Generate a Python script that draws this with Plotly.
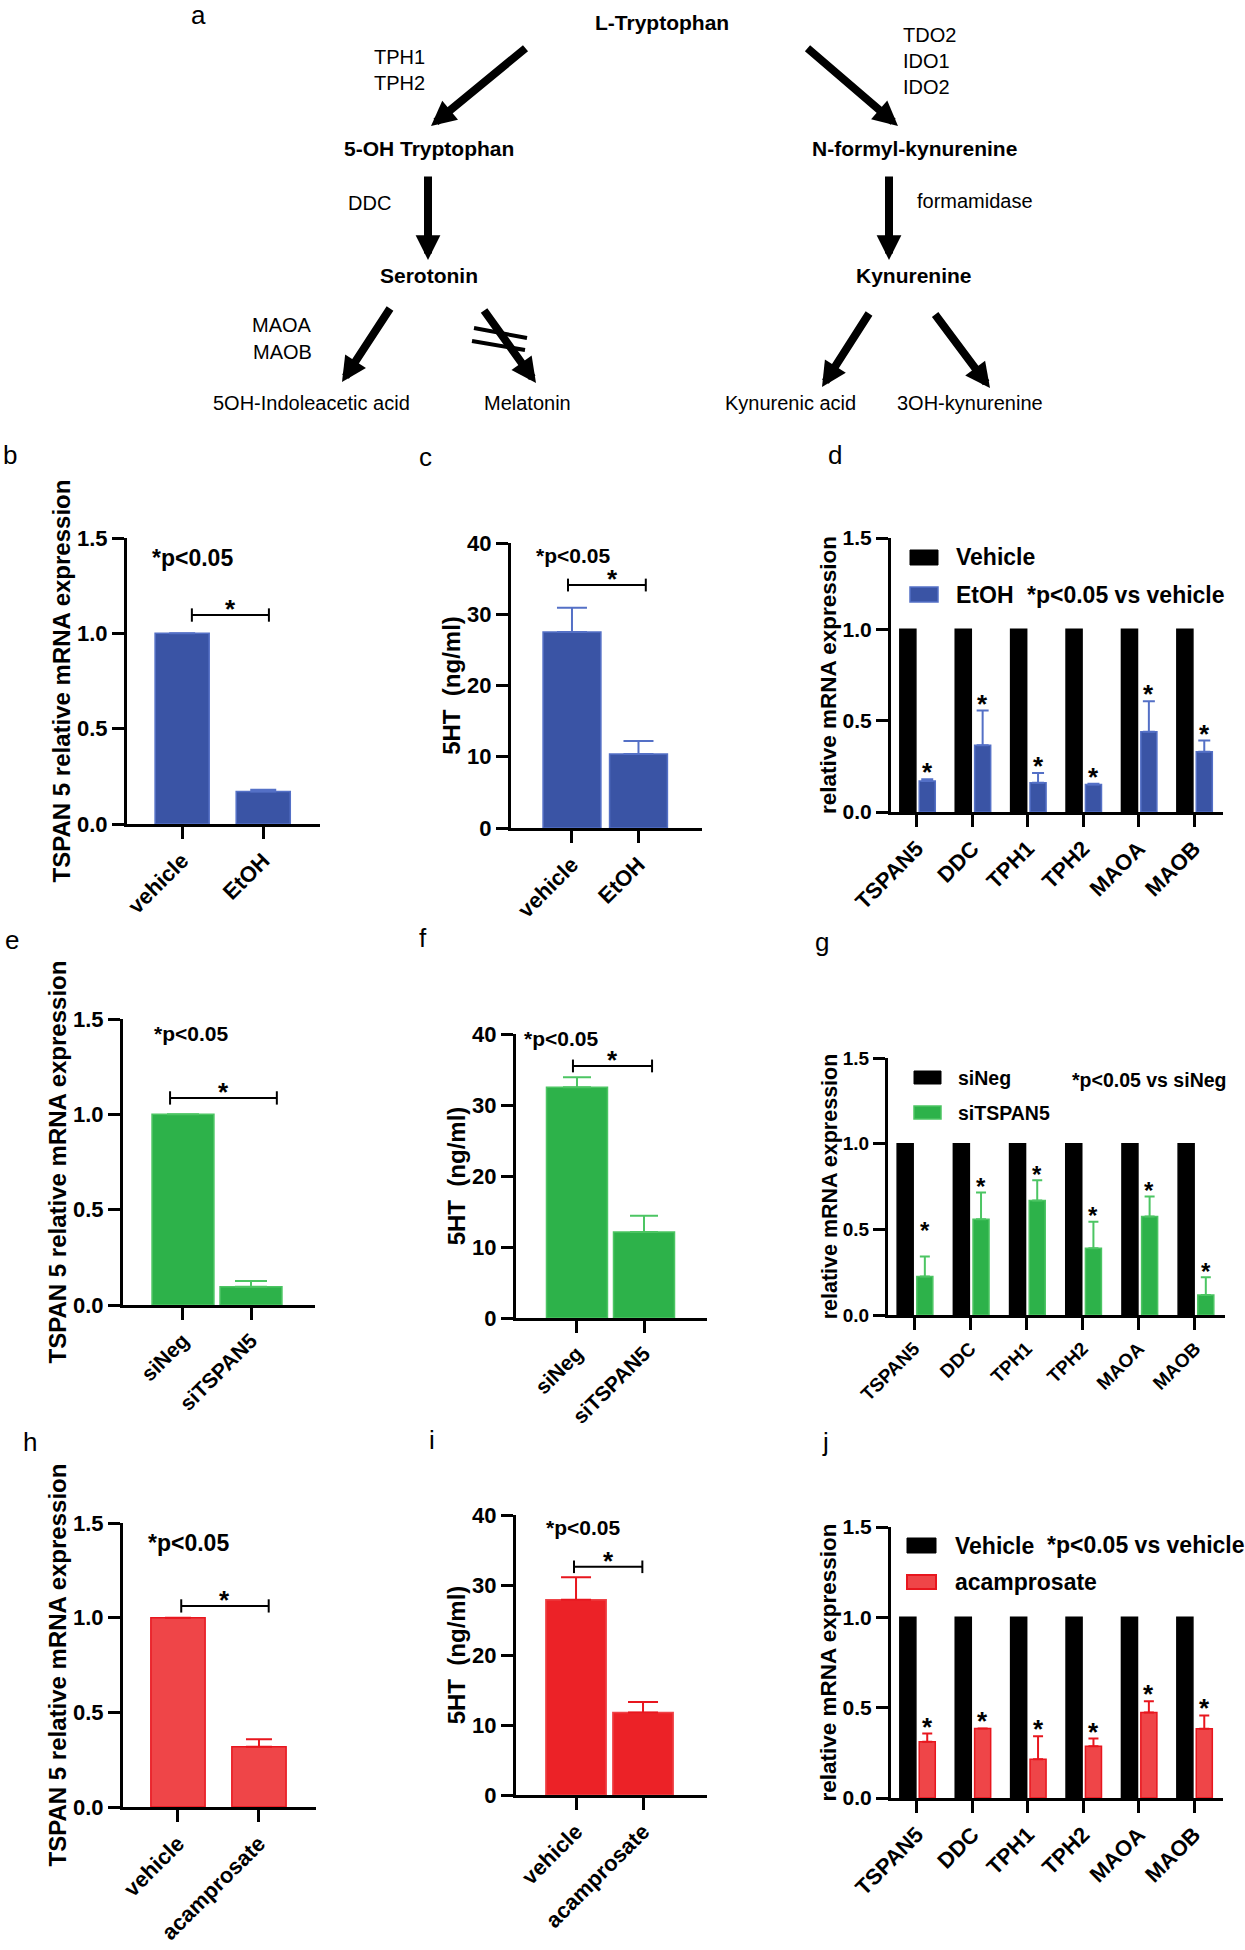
import plotly.graph_objects as go

W, H = 1245, 1950
FONT = "Liberation Sans, Arial, Helvetica, sans-serif"

# ---------------- data ----------------
# panel a (pathway labels)
pathway_nodes = ["L-Tryptophan", "5-OH Tryptophan", "N-formyl-kynurenine", "Serotonin", "Kynurenine"]
pathway_products = ["5OH-Indoleacetic acid", "Melatonin", "Kynurenic acid", "3OH-kynurenine"]
pathway_enzymes = ["TPH1", "TPH2", "TDO2", "IDO1", "IDO2", "DDC", "formamidase", "MAOA", "MAOB"]

# panel b
cats_b = ["vehicle", "EtOH"]
tspan_b = [1.00, 0.17]
tspan_b_err = [None, 0.010]
# panel c
cats_c = ["vehicle", "EtOH"]
ht_c = [27.5, 10.4]
ht_c_err = [3.4, 1.8]
# panel d
genes = ["TSPAN5", "DDC", "TPH1", "TPH2", "MAOA", "MAOB"]
vehicle_d = [1.0, 1.0, 1.0, 1.0, 1.0, 1.0]
etoh_d = [0.170, 0.365, 0.160, 0.150, 0.440, 0.330]
etoh_d_err = [0.009, 0.190, 0.054, 0.004, 0.166, 0.061]
# panel e
cats_e = ["siNeg", "siTSPAN5"]
tspan_e = [1.00, 0.096]
tspan_e_err = [None, 0.030]
# panel f
cats_f = ["siNeg", "siTSPAN5"]
ht_f = [32.5, 12.1]
ht_f_err = [1.4, 2.3]
# panel g
sineg_g = [1.0, 1.0, 1.0, 1.0, 1.0, 1.0]
sitspan5_g = [0.224, 0.559, 0.668, 0.390, 0.575, 0.117]
sitspan5_g_err = [0.117, 0.156, 0.119, 0.154, 0.117, 0.103]
# panel h
cats_h = ["vehicle", "acamprosate"]
tspan_h = [1.00, 0.318]
tspan_h_err = [None, 0.040]
# panel i
cats_i = ["vehicle", "acamprosate"]
ht_i = [27.9, 11.8]
ht_i_err = [3.2, 1.5]
# panel j
vehicle_j = [1.0, 1.0, 1.0, 1.0, 1.0, 1.0]
acamp_j = [0.311, 0.385, 0.215, 0.287, 0.473, 0.383]
acamp_j_err = [0.046, 0.0, 0.127, 0.042, 0.063, 0.074]

# ---------------- styles / layout geometry ----------------
BLUE, BLUE_EDGE = "#3A54A5", "#5470C6"
GREEN, GREEN_EDGE = "#2DB24A", "#4CC563"
RED, RED_EDGE = "#EF4548", "#E8161E"
RED_I, RED_I_EDGE = "#EC2227", "#EE4448"

GEOM = {  # pixel position of axis lines (x from..to, y top..bottom) and category range
    "b": dict(n=1, xpix=(127, 320), ypix=(538, 824), xr=(-0.68, 1.70)),
    "c": dict(n=2, xpix=(511, 702), ypix=(543, 828), xr=(-0.917, 1.955)),
    "d": dict(n=3, xpix=(891, 1223), ypix=(538, 812), xr=(-0.469, 5.523)),
    "e": dict(n=4, xpix=(123, 315), ypix=(1019, 1305), xr=(-0.882, 1.941)),
    "f": dict(n=5, xpix=(516, 707), ypix=(1034, 1318), xr=(-0.91, 1.94)),
    "g": dict(n=6, xpix=(888, 1225), ypix=(1058, 1315), xr=(-0.463, 5.534)),
    "h": dict(n=7, xpix=(123, 316), ypix=(1523, 1807), xr=(-0.679, 1.704)),
    "i": dict(n=8, xpix=(516, 707), ypix=(1515, 1795), xr=(-0.896, 1.955)),
    "j": dict(n=9, xpix=(891, 1223), ypix=(1527, 1798), xr=(-0.469, 5.523)),
}


def px(x):
    return x / W


def py(y):
    return 1 - y / H


def names(n):
    s = "" if n == 1 else str(n)
    return "x" + s, "y" + s, "xaxis" + s, "yaxis" + s


fig = go.Figure()
lay = {}
annotations = []
shapes = []


def setup_axes(key, cats, yrange, dtick, fmt, ytitle, tickfs, titlefs, xtickfs, standoff=0):
    g = GEOM[key]
    xn, yn, xk, yk = names(g["n"])
    lay[xk] = dict(domain=[px(g["xpix"][0]), px(g["xpix"][1])], anchor=yn, type="category",
                   range=list(g["xr"]), categoryorder="array", categoryarray=cats,
                   showline=True, linecolor="black", linewidth=3, ticks="outside", ticklen=12,
                   tickwidth=3, tickcolor="black", tickangle=-45, showgrid=False, zeroline=False,
                   automargin=False,
                   tickfont=dict(family=FONT, size=xtickfs, color="black", weight="bold"))
    lay[yk] = dict(domain=[py(g["ypix"][1]), py(g["ypix"][0])], anchor=xn, range=list(yrange),
                   tick0=0, dtick=dtick, tickformat=fmt, showline=True, linecolor="black",
                   linewidth=3, ticks="outside", ticklen=12, tickwidth=3, tickcolor="black",
                   showgrid=False, zeroline=False, automargin=False,
                   tickfont=dict(family=FONT, size=tickfs, color="black", weight="bold"),
                   title=dict(text=ytitle, standoff=standoff,
                              font=dict(family=FONT, size=titlefs, color="black", weight="bold")))
    return xn, yn


def bar(xn, yn, x, y, err, fill, edge, width, offset=None, capw=6, errcolor=None):
    kw = {}
    if offset is not None:
        kw["offset"] = offset
    e = None
    if err is not None:
        e = dict(type="data", symmetric=False, array=err, arrayminus=[0] * len(err),
                 color=errcolor or edge, thickness=2, width=capw)
    fig.add_trace(go.Bar(x=x, y=y, xaxis=xn, yaxis=yn, width=width,
                         marker=dict(color=fill, line=dict(color=edge, width=1.5)),
                         error_y=e, showlegend=False, **kw))


def text(x, y, s, size, bold=False, xanchor="center", yanchor="middle", xref="paper", yref="paper",
         yshift=0, angle=0):
    annotations.append(dict(x=x, y=y, xref=xref, yref=yref, text=s, showarrow=False,
                            xanchor=xanchor, yanchor=yanchor, yshift=yshift, textangle=angle,
                            font=dict(family=FONT, size=size, color="black",
                                      weight="bold" if bold else "normal")))


def bracket(xn, yn, x0, x1, y, tick, star_dx=0.0, size=26):
    shapes.append(dict(type="line", xref=xn, yref=yn, x0=x0, x1=x1, y0=y, y1=y,
                       line=dict(color="black", width=2)))
    for xx in (x0, x1):
        shapes.append(dict(type="line", xref=xn, yref=yn, x0=xx, x1=xx, y0=y - tick, y1=y + tick,
                           line=dict(color="black", width=2)))
    text((x0 + x1) / 2 + star_dx, y, "*", size, bold=True, xref=xn, yref=yn, yshift=6)


# ---------------- panel a: pathway ----------------
node_pos = [(662, 22), (429, 148), (914, 148), (429, 276), (914, 276)]
for lab, (x, y) in zip(pathway_nodes, node_pos):
    text(px(x), py(y), lab, 21, bold=True)
prod_pos = [(311, 403), (527, 403), (790, 403), (970, 403)]
for lab, (x, y) in zip(pathway_products, prod_pos):
    text(px(x), py(y), lab, 20)
enz_pos = [(399, 57, "center"), (399, 83, "center"), (901, 35, "left"), (901, 61, "left"),
           (901, 87, "left"), (369, 203, "center"), (975, 201, "center"), (282, 325, "center"),
           (282, 352, "center")]
for lab, (x, y, xa) in zip(pathway_enzymes, enz_pos):
    text(px(x), py(y), lab, 20, xanchor=xa)

arrows = [((527, 47), (431, 126)), ((806, 47), (898, 126)), ((428, 175), (428, 260)),
          ((889, 175), (889, 260)), ((391, 307), (342, 382)), ((483, 309), (536, 383)),
          ((870, 312), (822, 387)), ((934, 313), (990, 388))]
for (tx, ty), (hx, hy) in arrows:
    annotations.append(dict(x=px(hx), y=py(hy), xref="paper", yref="paper", text="",
                            showarrow=True, ax=tx - hx, ay=ty - hy, axref="pixel", ayref="pixel",
                            arrowhead=2, arrowsize=0.62, arrowwidth=8, arrowcolor="black",
                            standoff=0))
for (x0, y0, x1, y1) in [(474, 328, 527, 338), (472, 341, 525, 350)]:
    shapes.append(dict(type="line", xref="paper", yref="paper", x0=px(x0), y0=py(y0),
                       x1=px(x1), y1=py(y1), line=dict(color="black", width=4)))

# ---------------- panel letters ----------------
for lab, (x, y) in zip("abcdefghij", [(198, 15), (10, 455), (425, 457), (835, 455), (12, 940),
                                       (423, 938), (822, 942), (30, 1442), (432, 1440), (825, 1442)]):
    text(px(x), py(y), lab, 26)

TSPAN_TITLE = "TSPAN 5 relative mRNA expression"
HT_TITLE = "5HT\u00a0\u00a0(ng/ml)"
REL_TITLE = "relative mRNA expression"

# ---------------- panel b ----------------
xn, yn = setup_axes("b", cats_b, (0, 1.5), 0.5, ".1f", TSPAN_TITLE, 22, 24, 22)
bar(xn, yn, cats_b, tspan_b, tspan_b_err, BLUE, BLUE_EDGE, 0.667, capw=13)
bracket(xn, yn, 0.12, 1.07, 1.096, 0.035)
text(px(192), py(558), "*p<0.05", 23, bold=True)

# ---------------- panel c ----------------
xn, yn = setup_axes("c", cats_c, (0, 40), 10, "d", HT_TITLE, 22, 24, 22)
bar(xn, yn, cats_c, ht_c, ht_c_err, BLUE, BLUE_EDGE, 0.87, capw=15)
bracket(xn, yn, -0.06, 1.11, 34.1, 0.9, star_dx=0.09)
text(px(573), py(555), "*p<0.05", 21, bold=True)

# ---------------- panel d ----------------
xn, yn = setup_axes("d", genes, (0, 1.5), 0.5, ".1f", REL_TITLE, 21, 22.5, 22)
bar(xn, yn, genes, vehicle_d, None, "black", "black", 0.29, offset=-0.31)
bar(xn, yn, genes, etoh_d, etoh_d_err, BLUE, BLUE_EDGE, 0.29, offset=0.04, capw=6)
for k, (v, e) in enumerate(zip(etoh_d, etoh_d_err)):
    text(k + 0.185, v + e, "*", 26, bold=True, xref=xn, yref=yn, yshift=7)
shapes.append(dict(type="rect", xref="paper", yref="paper", x0=px(910), x1=px(938), y0=py(565),
                   y1=py(550), fillcolor="black", line=dict(color="black", width=1)))
shapes.append(dict(type="rect", xref="paper", yref="paper", x0=px(910), x1=px(938), y0=py(602),
                   y1=py(587), fillcolor=BLUE, line=dict(color=BLUE_EDGE, width=1.5)))
text(px(954), py(557), "Vehicle", 23, bold=True, xanchor="left")
text(px(954), py(595), "EtOH", 23, bold=True, xanchor="left")
text(px(1025), py(595), "*p<0.05 vs vehicle", 23, bold=True, xanchor="left")

# ---------------- panel e ----------------
xn, yn = setup_axes("e", cats_e, (0, 1.5), 0.5, ".1f", TSPAN_TITLE, 22, 24, 21)
bar(xn, yn, cats_e, tspan_e, tspan_e_err, GREEN, GREEN_EDGE, 0.91, capw=16)
bracket(xn, yn, -0.19, 1.38, 1.086, 0.035)
text(px(191), py(1033), "*p<0.05", 21, bold=True)

# ---------------- panel f ----------------
xn, yn = setup_axes("f", cats_f, (0, 40), 10, "d", HT_TITLE, 22, 24, 21)
bar(xn, yn, cats_f, ht_f, ht_f_err, GREEN, GREEN_EDGE, 0.91, capw=14)
bracket(xn, yn, -0.06, 1.12, 35.5, 0.9)
text(px(561), py(1038), "*p<0.05", 21, bold=True)

# ---------------- panel g ----------------
xn, yn = setup_axes("g", genes, (0, 1.5), 0.5, ".1f", REL_TITLE, 19, 21.5, 19)
bar(xn, yn, genes, sineg_g, None, "black", "black", 0.285, offset=-0.30)
bar(xn, yn, genes, sitspan5_g, sitspan5_g_err, GREEN, GREEN_EDGE, 0.285, offset=0.05, capw=5)
star_lift_g = {"TSPAN5": 0.12}
for k, (gname, v, e) in enumerate(zip(genes, sitspan5_g, sitspan5_g_err)):
    text(k + 0.19, v + e + star_lift_g.get(gname, 0), "*", 24, bold=True, xref=xn, yref=yn, yshift=6)
shapes.append(dict(type="rect", xref="paper", yref="paper", x0=px(914), x1=px(941), y0=py(1084),
                   y1=py(1071), fillcolor="black", line=dict(color="black", width=1)))
shapes.append(dict(type="rect", xref="paper", yref="paper", x0=px(914), x1=px(941), y0=py(1119),
                   y1=py(1106), fillcolor=GREEN, line=dict(color=GREEN_EDGE, width=1.5)))
text(px(956), py(1078), "siNeg", 19.5, bold=True, xanchor="left")
text(px(956), py(1113), "siTSPAN5", 19.5, bold=True, xanchor="left")
text(px(1070), py(1080), "*p<0.05 vs siNeg", 19.5, bold=True, xanchor="left")

# ---------------- panel h ----------------
xn, yn = setup_axes("h", cats_h, (0, 1.5), 0.5, ".1f", TSPAN_TITLE, 22, 24, 22)
bar(xn, yn, cats_h, tspan_h, tspan_h_err, RED, RED_EDGE, 0.67, capw=13)
bracket(xn, yn, 0.04, 1.12, 1.062, 0.035)
text(px(188), py(1543), "*p<0.05", 23, bold=True)

# ---------------- panel i ----------------
xn, yn = setup_axes("i", cats_i, (0, 40), 10, "d", HT_TITLE, 22, 24, 22)
bar(xn, yn, cats_i, ht_i, ht_i_err, RED_I, RED_I_EDGE, 0.9, capw=15, errcolor=RED_EDGE)
bracket(xn, yn, -0.03, 0.99, 32.6, 0.9)
text(px(583), py(1527), "*p<0.05", 21, bold=True)

# ---------------- panel j ----------------
xn, yn = setup_axes("j", genes, (0, 1.5), 0.5, ".1f", REL_TITLE, 21, 22.5, 22)
bar(xn, yn, genes, vehicle_j, None, "black", "black", 0.29, offset=-0.31)
bar(xn, yn, genes, acamp_j, acamp_j_err, RED, RED_EDGE, 0.29, offset=0.04, capw=5)
for k, (v, e) in enumerate(zip(acamp_j, acamp_j_err)):
    text(k + 0.185, v + e, "*", 26, bold=True, xref=xn, yref=yn, yshift=7)
shapes.append(dict(type="rect", xref="paper", yref="paper", x0=px(907), x1=px(936), y0=py(1553),
                   y1=py(1538), fillcolor="black", line=dict(color="black", width=1)))
shapes.append(dict(type="rect", xref="paper", yref="paper", x0=px(907), x1=px(936), y0=py(1589),
                   y1=py(1575), fillcolor=RED, line=dict(color=RED_EDGE, width=2)))
text(px(953), py(1546), "Vehicle", 23, bold=True, xanchor="left")
text(px(1045), py(1545), "*p<0.05 vs vehicle", 23, bold=True, xanchor="left")
text(px(953), py(1582), "acamprosate", 23, bold=True, xanchor="left")

fig.update_layout(width=W, height=H, margin=dict(l=0, r=0, t=0, b=0, autoexpand=False),
                  paper_bgcolor="white", plot_bgcolor="white", barmode="overlay",
                  showlegend=False, font=dict(family=FONT, color="black"),
                  annotations=annotations, shapes=shapes, **lay)

fig.write_html("out.html", config={"displayModeBar": False},
               post_script="document.body.style.margin='0px';document.body.style.padding='0px';")
